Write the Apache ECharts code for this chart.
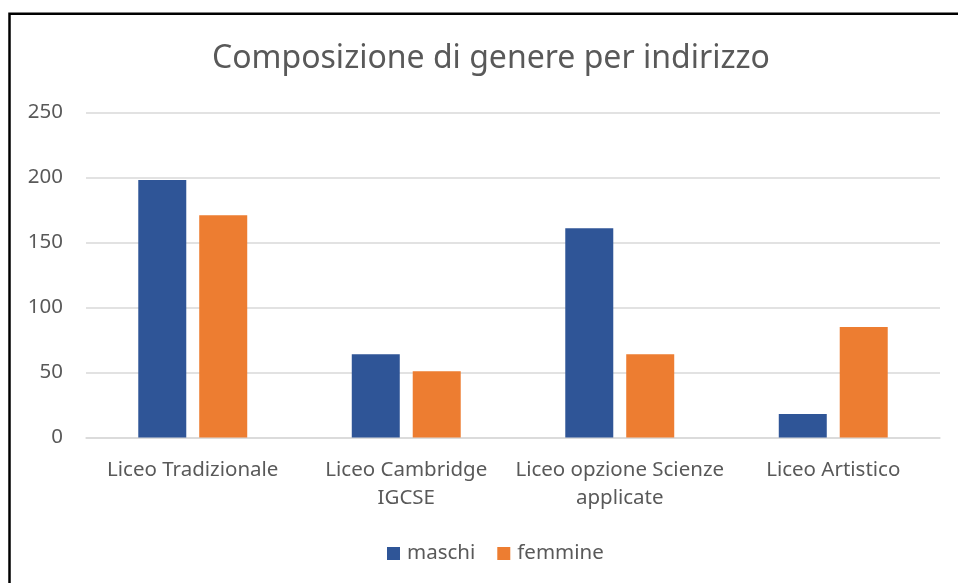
<!DOCTYPE html>
<html>
<head>
<meta charset="utf-8">
<script src="https://cdn.jsdelivr.net/npm/echarts@6/dist/echarts.min.js"></script>
<style>
html,body{margin:0;padding:0;background:#fff;}
#chart{width:958px;height:583px;}
</style>
</head>
<body>
<div id="chart"></div>
<script>
const categories = ['Liceo Tradizionale', 'Liceo Cambridge\nIGCSE', 'Liceo opzione Scienze\napplicate', 'Liceo Artistico'];
const maschi = [198, 64, 161, 18];
const femmine = [171, 51, 64, 85];
const yTicks = [0, 50, 100, 150, 200, 250];

const chart = echarts.init(document.getElementById('chart'), null, {renderer: 'canvas'});
const textColor = '#595959';
const font = 'Noto Sans';
chart.setOption({
  animation: false,
  backgroundColor: '#ffffff',
  graphic: [{
    type: 'rect',
    shape: {x: 9.5, y: 13.8, width: 1200, height: 1200},
    style: {fill: 'none', stroke: '#000', lineWidth: 2.5},
    silent: true
  }],
  title: {
    text: 'Composizione di genere per indirizzo',
    left: 207,
    top: 38,
    textStyle: {fontFamily: font, fontSize: 32, fontWeight: 'normal', color: textColor}
  },
  legend: {
    data: ['maschi', 'femmine'],
    bottom: 19,
    left: 387,
    padding: 0,
    itemWidth: 13,
    itemHeight: 13,
    itemGap: 22,
    icon: 'rect',
    textStyle: {fontFamily: font, fontSize: 20.5, color: textColor, padding: [0, 0, 0, 2]}
  },
  grid: {left: 86, right: 18, top: 112.5, bottom: 145.5, containLabel: false},
  xAxis: {
    type: 'category',
    data: categories,
    axisLine: {lineStyle: {color: '#d9d9d9', width: 1.5}},
    axisTick: {show: false},
    axisLabel: {fontFamily: font, fontSize: 20.5, color: textColor, margin: 19, lineHeight: 28, interval: 0}
  },
  yAxis: {
    type: 'value',
    min: yTicks[0],
    max: yTicks[yTicks.length - 1],
    interval: yTicks[1] - yTicks[0],
    axisLine: {show: false},
    axisTick: {show: false},
    splitLine: {lineStyle: {color: '#d9d9d9', width: 1.5}},
    axisLabel: {fontFamily: font, fontSize: 20.5, color: textColor, margin: 23}
  },
  series: [
    {name: 'maschi', type: 'bar', data: maschi, barWidth: 48, barGap: '27%',
     itemStyle: {color: '#2F5597'}},
    {name: 'femmine', type: 'bar', data: femmine, barWidth: 48,
     itemStyle: {color: '#ED7D31'}}
  ]
});
</script>
</body>
</html>
